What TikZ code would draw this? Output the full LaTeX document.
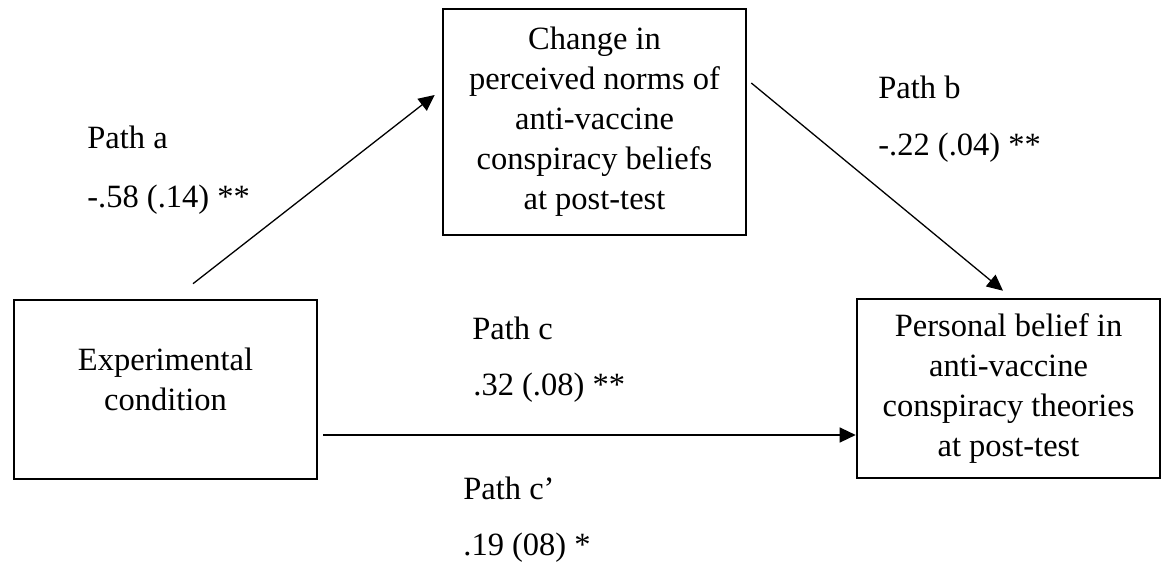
\documentclass[tikz,border=0pt]{standalone}
\usepackage{fontspec}
\setmainfont{Liberation Serif}
\usetikzlibrary{arrows.meta,calc}

\begin{document}
\begin{tikzpicture}[x=0.5pt, y=-0.5pt,
    every node/.style={font=\fontsize{16.25}{20}\selectfont},
    varBox/.style={draw, line width=1.3pt, align=center, minimum width=151.5pt, inner sep=0pt},
    pathLabel/.style={anchor=west, inner sep=0pt},
    pathArrow/.style={-{Triangle[length=8pt,width=7.5pt]}, line width=0.65pt}]
    % Picture frame (pixel units of the figure)
    \useasboundingbox (0,0) rectangle (1163,567);

    % Variables of the mediation model
    \node[varBox, minimum height=89.5pt, text depth=10pt] (cond) at (165.5,389.5) {Experimental\\condition};
    \node[varBox, minimum height=113pt] (norms) at (594.5,122)
        {Change in\\perceived norms of\\anti-vaccine\\conspiracy beliefs\\at post-test};
    \node[varBox, minimum height=89.5pt] (belief) at (1008.5,388.5)
        {Personal belief in\\anti-vaccine\\conspiracy theories\\at post-test};

    % Free ends of the paths
    \coordinate (aStart) at ($(cond.north)+(27.5,-15)$);
    \coordinate (aEnd)   at ($(norms.west)+(-7,-27)$);
    \coordinate (bStart) at ($(norms.east)+(4,-39)$);
    \coordinate (bEnd)   at ($(belief.north)+(-5.5,-7)$);
    \coordinate (cStart) at ($(cond.east)+(5,45.5)$);

    % Paths a, b and c
    \draw[pathArrow] (aStart) -- (aEnd);
    \draw[pathArrow] (bStart) -- (bEnd);
    \draw[pathArrow] (cStart) -- (cStart -| belief.west);

    % Path coefficients
    \node[pathLabel] (aName) at (87,137) {Path a};
    \node[pathLabel] (aCoef) at (87,200) {-.58 (.14) **};
    \node[pathLabel] (bName) at (878,87) {Path b};
    \node[pathLabel] (bCoef) at (878,148) {-.22 (.04) **};
    \node[pathLabel] (cName) at (472,328) {Path c};
    \node[pathLabel] (cCoef) at (473,388) {.32 (.08) **};
    \node[pathLabel] (cpName) at (463,488) {Path c’};
    \node[pathLabel] (cpCoef) at (463,548) {.19 (08) *};
\end{tikzpicture}
\end{document}
